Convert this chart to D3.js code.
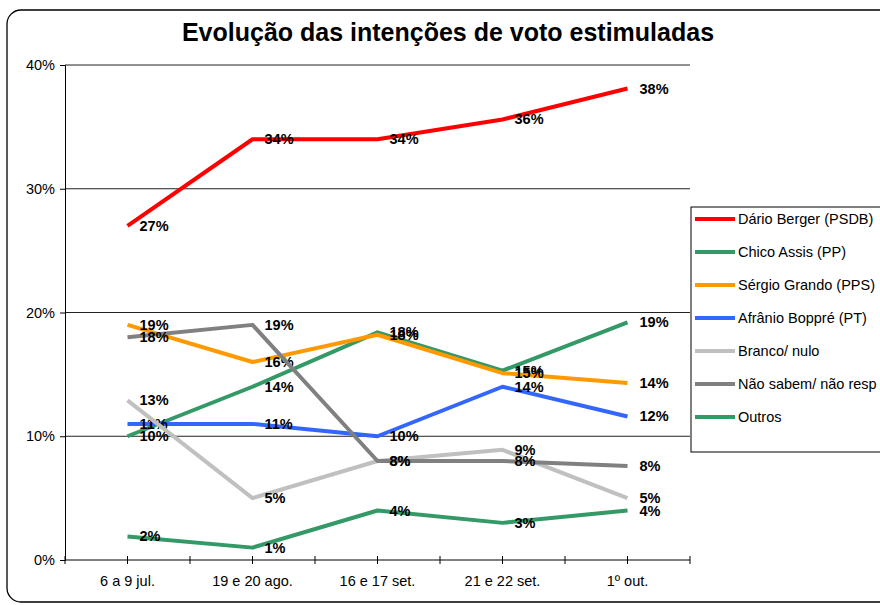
<!DOCTYPE html>
<html lang="pt">
<head>
<meta charset="UTF-8">
<title>Evolução das intenções de voto estimuladas</title>
<script src="https://cdn.jsdelivr.net/npm/d3@7"></script>
<style>
    body { margin: 0; background: #fff; }
    svg { font-family: "Liberation Sans", Arial, sans-serif; }
    .lbl { font-weight: bold; font-size: 14.5px; fill: #000; }
    .tick text { font-size: 14.5px; fill: #000; }
</style>
</head>
<body>
<svg id="chart" width="880" height="605"></svg>
<script>
// dados
var categories = ["6 a 9 jul.", "19 e 20 ago.", "16 e 17 set.", "21 e 22 set.", "1º out."];
var yTicks = [0, 10, 20, 30, 40];

var dario   = [27, 34, 34, 35.6, 38.1];
var chico   = [10, 14, 18.4, 15.3, 19.2];
var sergio  = [19, 16, 18.2, 15.1, 14.3];
var afranio = [11, 11, 10, 14, 11.6];
var branco  = [12.9, 5, 8, 8.9, 5];
var naoSab  = [18, 19, 8, 8, 7.6];
var outros  = [1.9, 1, 4, 3, 4];

var series = [
    { name: "Dário Berger (PSDB)", values: dario, color: "#ff0000" },
    { name: "Chico Assis (PP)", values: chico, color: "#339966" },
    { name: "Sérgio Grando (PPS)", values: sergio, color: "#ff9900" },
    { name: "Afrânio Boppré (PT)", values: afranio, color: "#3366ff" },
    { name: "Branco/ nulo", values: branco, color: "#c0c0c0" },
    { name: "Não sabem/ não resp", values: naoSab, color: "#808080" },
    { name: "Outros", values: outros, color: "#339966" }
];

var svg = d3.select("#chart");

// moldura arredondada
svg.append("rect")
    .attr("x", 7).attr("y", 10)
    .attr("width", 900).attr("height", 592)
    .attr("rx", 14)
    .attr("fill", "#fff").attr("stroke", "#000").attr("stroke-width", 1.3);

svg.append("text")
    .attr("x", 448).attr("y", 41)
    .attr("text-anchor", "middle")
    .style("font-size", "25px").style("font-weight", "bold")
    .text("Evolução das intenções de voto estimuladas");

var pLeft = 65, pRight = 690, pTop = 65, pBottom = 560;

var x = d3.scaleBand().domain(categories).range([pLeft, pRight]);
var y = d3.scaleLinear().domain([0, 40]).range([pBottom, pTop]);

// grade
svg.append("g").selectAll("line")
    .data(yTicks.filter(function (d) { return d > 0; }))
    .enter().append("line")
    .attr("x1", pLeft).attr("x2", pRight)
    .attr("y1", function (d) { return y(d); })
    .attr("y2", function (d) { return y(d); })
    .attr("stroke", "#222").attr("stroke-width", 1);

// eixo y
var yAxis = svg.append("g")
    .attr("transform", "translate(" + pLeft + ",0)")
    .call(d3.axisLeft(y).tickValues(yTicks).tickSize(5).tickPadding(5)
        .tickFormat(function (d) { return d + "%"; }));
yAxis.select(".domain").attr("stroke", "#000");
yAxis.selectAll(".tick line").attr("stroke", "#000");

// eixo x
var xAxis = svg.append("g")
    .attr("transform", "translate(0," + pBottom + ")")
    .call(d3.axisBottom(x).tickSize(0).tickPadding(16));
xAxis.select(".domain").attr("stroke", "#000").attr("d", "M" + pLeft + ",0H" + pRight);

// marcas do eixo x (limites e centros)
var tickPos = [];
categories.forEach(function (c) {
    tickPos.push(x(c));
    tickPos.push(x(c) + x.bandwidth() / 2);
});
tickPos.push(pRight);
svg.append("g").selectAll("line")
    .data(tickPos)
    .enter().append("line")
    .attr("x1", function (d) { return d; }).attr("x2", function (d) { return d; })
    .attr("y1", pBottom - 4).attr("y2", pBottom + 4)
    .attr("stroke", "#000");

var line = d3.line()
    .x(function (d, i) { return x(categories[i]) + x.bandwidth() / 2; })
    .y(function (d) { return y(d); });

var g = svg.append("g").selectAll("g")
    .data(series)
    .enter().append("g");

g.append("path")
    .attr("d", function (d) { return line(d.values); })
    .attr("fill", "none")
    .attr("stroke", function (d) { return d.color; })
    .attr("stroke-width", 4)
    .attr("stroke-linejoin", "round");

g.selectAll("text")
    .data(function (d) { return d.values; })
    .enter().append("text")
    .attr("class", "lbl")
    .attr("x", function (d, i) { return x(categories[i]) + x.bandwidth() / 2 + 12; })
    .attr("y", function (d) { return y(d) + 5; })
    .text(function (d) { return Math.round(d) + "%"; });

// legenda
var legend = svg.append("g");
legend.append("rect")
    .attr("x", 691).attr("y", 207)
    .attr("width", 200).attr("height", 245)
    .attr("fill", "#fff").attr("stroke", "#000").attr("stroke-width", 1);

var item = legend.selectAll("g.item")
    .data(series)
    .enter().append("g")
    .attr("class", "item")
    .attr("transform", function (d, i) { return "translate(0," + (219 + i * 33) + ")"; });

item.append("line")
    .attr("x1", 695).attr("x2", 735)
    .attr("stroke", function (d) { return d.color; })
    .attr("stroke-width", 4);

item.append("text")
    .attr("x", 738).attr("y", 5)
    .style("font-size", "14.5px")
    .text(function (d) { return d.name; });
</script>
</body>
</html>
